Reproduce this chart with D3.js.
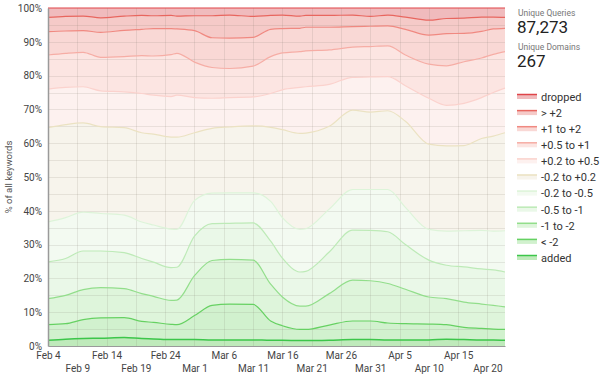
<!DOCTYPE html>
<html><head><meta charset="utf-8">
<script src="https://cdn.jsdelivr.net/npm/d3@7"></script>
<style>body{margin:0;background:#fff;font-family:Roboto,"Noto Sans",sans-serif}svg{display:block}</style>
</head><body><svg id="c" width="600" height="375"></svg>
<script>
// ---- data ----
const dates = ["2019-02-04","2019-02-07","2019-02-10","2019-02-13","2019-02-17","2019-02-20","2019-02-22","2019-02-25","2019-02-26","2019-03-01","2019-03-04","2019-03-07","2019-03-11","2019-03-14","2019-03-16","2019-03-19","2019-03-20","2019-03-24","2019-03-28","2019-03-31","2019-04-03","2019-04-06","2019-04-10","2019-04-13","2019-04-16","2019-04-19","2019-04-21","2019-04-23"];
const categories = ["added","< -2","-1 to -2","-0.5 to -1","-0.2 to -0.5","-0.2 to +0.2","+0.2 to +0.5","+0.5 to +1","+1 to +2","> +2","dropped"];
const added      = [1.7,2.0,2.2,2.3,2.5,2.2,2.1,1.9,1.9,1.9,1.8,1.8,1.8,1.7,1.7,1.6,1.6,1.7,1.9,1.9,1.8,1.8,1.8,2.0,1.9,1.8,1.8,1.7];
const below2     = [4.6,4.6,5.6,6.0,5.9,5.1,4.9,4.5,4.4,7.1,10.2,10.6,10.5,5.7,4.3,3.3,3.3,4.5,5.5,5.5,5.0,4.8,4.7,4.3,3.6,3.4,3.2,3.2];
const m1to2      = [7.7,8.4,8.9,9.0,8.6,8.2,7.7,7.1,7.3,11.8,13.3,13.2,13.1,10.9,8.5,6.9,6.9,9.3,12.1,11.9,11.7,10.2,8.0,7.7,7.5,7.2,7.0,6.7];
const m05to1     = [10.9,10.9,11.4,10.8,10.6,10.4,10.1,9.7,9.7,11.7,10.9,10.7,11.0,12.7,11.5,10.1,10.3,12.3,14.8,14.9,15.3,13.2,10.9,9.9,10.4,10.4,10.5,10.3];
const m02to05    = [11.8,12.1,11.5,11.1,11.1,10.8,11.0,11.4,11.2,10.5,9.0,9.0,8.9,11.8,12.0,12.6,12.6,12.7,12.0,12.1,12.5,11.0,9.1,10.1,10.7,11.4,11.5,12.2];
const flat       = [27.9,27.5,26.4,25.7,25.9,26.4,26.9,27.2,27.3,20.1,19.2,19.5,19.8,21.9,26.0,28.4,28.3,24.5,23.5,22.9,23.3,25.5,25.2,25.2,25.2,27.2,28.1,29.0];
const p02to05    = [11.4,11.0,10.7,10.6,10.6,11.6,11.5,12.0,12.4,10.4,8.9,8.7,8.6,10.0,11.8,13.6,13.7,12.4,9.7,10.4,10.1,10.5,13.6,12.0,12.5,12.1,12.9,13.2];
const p05to1     = [10.1,10.1,10.2,9.9,10.4,11.2,11.6,12.4,12.4,10.5,9.1,8.6,9.1,10.9,10.9,10.6,10.6,10.2,8.9,9.0,9.1,9.1,10.1,11.7,12.3,11.7,11.3,10.8];
const p1to2      = [6.9,6.6,6.4,7.4,7.8,7.8,8.1,7.7,7.2,9.3,8.8,9.0,8.5,8.1,7.2,6.9,7.0,6.7,6.1,6.0,5.9,7.6,8.6,9.5,8.4,7.9,7.5,6.9];
const above2     = [4.2,4.3,4.3,4.3,4.2,4.1,3.8,3.9,3.8,4.4,6.5,6.8,6.2,4.1,4.0,3.6,3.5,3.5,3.4,2.9,3.2,3.6,4.4,4.5,4.5,4.2,3.5,3.2];
const dropped    = [2.8,2.5,2.4,2.9,2.4,2.2,2.3,2.2,2.4,2.3,2.3,2.1,2.5,2.2,2.1,2.4,2.2,2.2,2.1,2.5,2.1,2.7,3.6,3.1,3.0,2.7,2.7,2.8];
const yTicks = [0,10,20,30,40,50,60,70,80,90,100];
const xTickDates = ["2019-02-04","2019-02-09","2019-02-14","2019-02-19","2019-02-24","2019-03-01","2019-03-06","2019-03-11","2019-03-16","2019-03-21","2019-03-26","2019-03-31","2019-04-05","2019-04-10","2019-04-15","2019-04-20"];
const stats = [["Unique Queries","87,273"],["Unique Domains","267"]];

// ---- styles ----
const lineColors = ["#3cc64a","#66d162","#92de8b","#bdeab7","#ddf4d9","#ebe2c2","#fbd2cd","#f6ada5","#f08981","#e8665f","#df4549"];
const fillColors = ["#bfeabb","#d1f1ce","#def5db","#eaf8e8","#f3faf1","#f7f4ec","#fdf1ef","#fce5e2","#f9d8d5","#f5cac8","#f0bbbd"];

const parse = d3.timeParse("%Y-%m-%d");
const seriesArr = [added,below2,m1to2,m05to1,m02to05,flat,p02to05,p05to1,p1to2,above2,dropped];
const rows = dates.map((d,i) => {
  const r = {date: parse(d)};
  categories.forEach((k,j) => r[k] = seriesArr[j][i]);
  return r;
});
const stacked = d3.stack().keys(categories)(rows);

const svg = d3.select("#c");
const M = {l:48, r:505, t:8, b:346};
const x = d3.scaleTime().domain([parse("2019-02-04"), parse("2019-04-23")]).range([M.l, M.r]);
const y = d3.scaleLinear().domain([0,100]).range([M.b, M.t]);

const curve = d3.curveMonotoneX;
const area = d3.area().x(d => x(d.data.date)).y0(d => y(d[0])).y1(d => y(d[1])).curve(curve);
const line = d3.line().x(d => x(d.data.date)).y(d => y(d[1])).curve(curve);

svg.append("g").selectAll("path").data(stacked).join("path")
  .attr("d", area).attr("fill", (d,i) => fillColors[i]);

// grid
const grid = svg.append("g").attr("stroke","rgba(120,110,100,0.14)").attr("stroke-width",1);
d3.range(5,100,5).forEach(v => grid.append("line").attr("x1",M.l).attr("x2",M.r).attr("y1",Math.round(y(v))+0.5).attr("y2",Math.round(y(v))+0.5));
xTickDates.forEach(d => { const xx = Math.round(x(parse(d)))+0.5; grid.append("line").attr("x1",xx).attr("x2",xx).attr("y1",M.t).attr("y2",M.b); });

svg.append("g").selectAll("path").data(stacked).join("path")
  .attr("d", line).attr("fill","none").attr("stroke", (d,i) => lineColors[i])
  .attr("stroke-width", (d,i) => i===0 ? 1.5 : 1.2);

// axes
const yAxis = svg.append("g").attr("transform",`translate(${M.l},0)`)
  .call(d3.axisLeft(y).tickValues(yTicks).tickFormat(d => d + "%").tickSize(0).tickPadding(6));
yAxis.select(".domain").attr("stroke","#9a9a9a").attr("stroke-width",1.5);
yAxis.selectAll("text").attr("font-size",10).attr("fill","#444").attr("font-family","Roboto");

const xAxis = svg.append("g").attr("transform",`translate(0,${M.b})`)
  .call(d3.axisBottom(x).tickValues(xTickDates.map(parse)).tickFormat(d3.timeFormat("%b %-d")).tickSize(0).tickPadding(6));
xAxis.select(".domain").attr("stroke","#9a9a9a").attr("stroke-width",1);
xAxis.selectAll("text").attr("font-size",10).attr("fill","#444").attr("font-family","Roboto")
  .attr("dy", (d,i) => i % 2 ? "1.95em" : "0.71em");

svg.append("text").attr("transform","translate(12,177) rotate(-90)").attr("text-anchor","middle")
  .attr("font-size",9.5).attr("fill","#555").text("% of all keywords");

// stats
stats.forEach((s,i) => {
  svg.append("text").attr("x",518).attr("y",16 + i*34).attr("font-size",8.5).attr("fill","#777").text(s[0]);
  svg.append("text").attr("x",517).attr("y",33 + i*34).attr("font-size",17).attr("fill","#222").text(s[1]);
});

// legend
const leg = svg.append("g");
const order = categories.slice().reverse();
order.forEach((k,i) => {
  const j = categories.indexOf(k);
  const yy = 97 + i*16.1;
  leg.append("rect").attr("x",517).attr("y",yy-3).attr("width",20).attr("height",5).attr("fill",fillColors[j]);
  leg.append("line").attr("x1",517).attr("x2",537).attr("y1",yy-2.5).attr("y2",yy-2.5).attr("stroke",lineColors[j]).attr("stroke-width",1.5);
  leg.append("text").attr("x",541).attr("y",yy).attr("dy","0.35em").attr("font-size",11).attr("fill","#333").text(k);
});
</script></body></html>
